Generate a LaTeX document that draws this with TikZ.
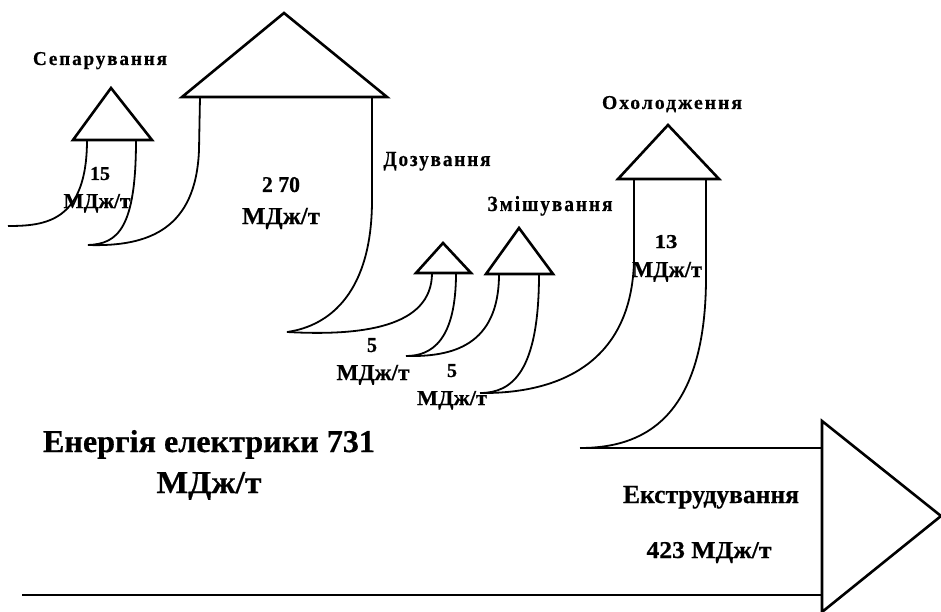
\documentclass[tikz,border=0pt]{standalone}
\usepackage{graphicx}
\usepackage{fontspec}
\setmainfont{Liberation Serif}
\newfontfamily\heavy[BoldFeatures={FakeBold=0.5}]{Liberation Serif}
\newfontfamily\spacedbf[LetterSpace=10,BoldFeatures={FakeBold=0.5}]{Liberation Serif}
% set a text at a given printed width and cap height
\newcommand\fitb[3]{\resizebox{#1pt}{#2pt}{#3}}
\begin{document}
\begin{tikzpicture}[x=1pt,y=-1pt]
\tikzset{
  flow/.style={line width=1.8pt, line join=round},
  head/.style={line width=2.6pt, line join=miter, fill=white},
  stage/.style={font=\spacedbf\bfseries, inner sep=0pt, anchor=base},
  val/.style={font=\heavy\bfseries, inner sep=0pt, anchor=base}
}
\useasboundingbox (0,0) rectangle (941,612);

% stem feet of each branch and the cusps where neighbouring bands meet
\coordinate (sepL) at (87,140);   \coordinate (sepR) at (136,140);
\coordinate (dryL) at (200,97);   \coordinate (dryR) at (372,97);
\coordinate (dosL) at (432,273);  \coordinate (dosR) at (456,273);
\coordinate (mixL) at (499,274);  \coordinate (mixR) at (539,274);
\coordinate (coolL) at (634,179); \coordinate (coolR) at (706,179);
\coordinate (inlet) at (8,226);
\coordinate (c1) at (88,245);
\coordinate (c2) at (287,332);
\coordinate (c3) at (406,356);
\coordinate (c4) at (480,393);
\coordinate (c5) at (580,448);
\coordinate (extTop) at (822,448);
\coordinate (mainIn) at (22,595);
\coordinate (extBot) at (822,595);

% band edges
\draw[flow] (sepL) .. controls (87,222) and (45,226) .. (inlet);
\draw[flow] (sepR) .. controls (136,228) and (118,244) .. (c1);
\draw[flow] (dryL) -- (199,150) .. controls (196,228) and (150,247) .. (c1);
\draw[flow] (dryR) -- (372,200) .. controls (372,292) and (330,326) .. (c2);
\draw[flow] (dosL) .. controls (432,328) and (360,336) .. (c2);
\draw[flow] (dosR) .. controls (456,340) and (432,356) .. (c3);
\draw[flow] (mixL) .. controls (499,346) and (452,357) .. (c3);
\draw[flow] (mixR) .. controls (539,372) and (512,393) .. (c4);
\draw[flow] (coolL) -- (634,260) .. controls (632,362) and (560,394) .. (c4);
\draw[flow] (coolR) -- (706,280) .. controls (705,422) and (640,448) .. (c5);
\draw[line width=2.6pt] (c5) -- (extTop);
\draw[line width=2.6pt] (mainIn) -- (extBot);

% arrow heads
\draw[head] (73,140) -- (111,88) -- (152,140) -- cycle;
\draw[head] (182,97) -- (284,13) -- (387,97) -- cycle;
\draw[head] (416,273) -- (443,243) -- (471,273) -- cycle;
\draw[head] (486,274) -- (519,228) -- (553,274) -- cycle;
\draw[head] (618,179) -- (668,125) -- (719,179) -- cycle;
\draw[head] (822,421) -- (941,516) -- (822,612) -- cycle;

% stage names
\node[stage] (tSep) at (100,65) {\fitb{134}{13}{Сепарування}};
\node[stage] (tDos) at (437,166) {\fitb{107}{14}{Дозування}};
\node[stage] (tMix) at (550,211) {\fitb{125}{15}{Змішування}};
\node[stage] (tCool) at (672,109) {\fitb{140}{13}{Охолодження}};

% energy values
\node[val] (vSepN) at (100,180) {\fitb{20}{13}{15}};
\node[val] (vSepU) at (97,208) {\fitb{67}{14}{МДж/т}};
\node[val] (vDryN) at (281,192) {\fitb{38}{15}{2\hspace{0.25em}70}};
\node[val] (vDryU) at (281,224) {\fitb{78}{16}{МДж/т}};
\node[val] (vDosN) at (372,352) {\fitb{10}{14}{5}};
\node[val] (vDosU) at (373,380) {\fitb{73}{15}{МДж/т}};
\node[val] (vMixN) at (452,377) {\fitb{10}{13}{5}};
\node[val] (vMixU) at (452,405) {\fitb{70}{14}{МДж/т}};
\node[val] (vCoolN) at (666,248) {\fitb{23}{13}{13}};
\node[val] (vCoolU) at (667,277) {\fitb{70}{15}{МДж/т}};
\node[val] (vTotal) at (209,452) {\fitb{332}{22}{Енергія електрики 731}};
\node[val] (vTotalU) at (209,493) {\fitb{105}{21}{МДж/т}};
\node[val] (tExt) at (711,503) {\fitb{176}{17}{Екструдування}};
\node[val] (vExt) at (709,558) {\fitb{125}{16}{423 МДж/т}};
\end{tikzpicture}
\end{document}
